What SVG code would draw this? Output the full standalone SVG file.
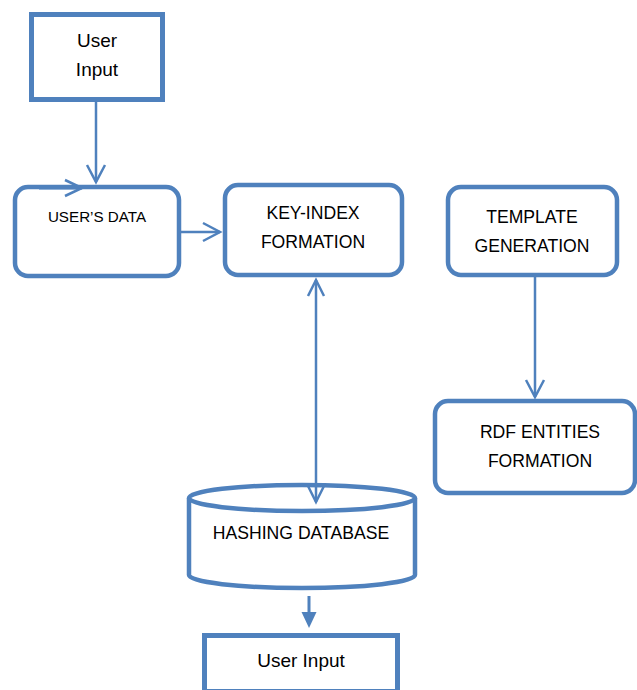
<svg xmlns="http://www.w3.org/2000/svg" width="637" height="690" viewBox="0 0 637 690">
  <defs>
    <style>
      .box { fill: #ffffff; stroke: #4f81bd; stroke-width: 4.5; }
      .line { fill: none; stroke: #4f81bd; stroke-width: 2.5; }
      .head { fill: none; stroke: #4f81bd; stroke-width: 2.5; stroke-linejoin: miter; }
      .lbl { font-family: "Liberation Sans", Arial, sans-serif; font-size: 17.6px; fill: #000000; text-anchor: middle; }
      .sm { font-size: 15.2px; }
      .mixed { font-size: 19px; }
    </style>
  </defs>
  <rect width="637" height="690" fill="#ffffff"/>

  <!-- nodes -->
  <g id="user-input-top">
    <rect class="box" x="31.5" y="14.5" width="131" height="85" style="stroke-width:5"/>
    <text class="lbl mixed" x="97" y="47">User</text>
    <text class="lbl mixed" x="97" y="76">Input</text>
  </g>

  <g id="users-data">
    <rect class="box" x="15" y="187" width="164" height="89" rx="13"/>
    <text class="lbl sm" x="97" y="222">USER’S DATA</text>
  </g>

  <g id="key-index">
    <rect class="box" x="225" y="185" width="177" height="90" rx="13"/>
    <text class="lbl" x="313" y="219">KEY-INDEX</text>
    <text class="lbl" x="313" y="248">FORMATION</text>
  </g>

  <g id="template-generation">
    <rect class="box" x="448" y="187" width="169" height="88" rx="13"/>
    <text class="lbl" x="532" y="223">TEMPLATE</text>
    <text class="lbl" x="532" y="252">GENERATION</text>
  </g>

  <g id="rdf-entities">
    <rect class="box" x="435" y="401" width="200" height="92" rx="13"/>
    <text class="lbl" x="540" y="438">RDF ENTITIES</text>
    <text class="lbl" x="540" y="467">FORMATION</text>
  </g>

  <g id="hashing-database">
    <path class="box" d="M189,498 L189,575 A113,13 0 0 0 415,575 L415,498"/>
    <ellipse class="box" cx="302" cy="498" rx="113" ry="13"/>
    <text class="lbl" x="301" y="539">HASHING DATABASE</text>
  </g>

  <g id="user-input-bottom">
    <rect class="box" x="204.5" y="635.5" width="193" height="56" style="stroke-width:5"/>
    <text class="lbl mixed" x="301" y="667">User Input</text>
  </g>

  <!-- connectors -->
  <g id="connectors">
    <!-- User Input -> USER'S DATA -->
    <line class="line" x1="96" y1="102" x2="96" y2="182"/>
    <polyline class="head" points="87,165 96,182 105,165"/>

    <!-- short arrow along top edge of USER'S DATA -->
    <line class="line" x1="39" y1="188" x2="82" y2="188" style="stroke-width:3"/>
    <polyline class="head" points="65,180 82,188 65,196"/>

    <!-- USER'S DATA -> KEY-INDEX -->
    <line class="line" x1="181" y1="232" x2="220" y2="232"/>
    <polyline class="head" points="203,223 220,232 203,241"/>

    <!-- KEY-INDEX <-> HASHING DATABASE -->
    <line class="line" x1="316" y1="280" x2="316" y2="502"/>
    <polyline class="head" points="308,296 316,280 324,296"/>
    <polyline class="head" points="308,486 316,502 324,486"/>

    <!-- TEMPLATE -> RDF ENTITIES -->
    <line class="line" x1="535" y1="277" x2="535" y2="397"/>
    <polyline class="head" points="526,380 535,397 544,380"/>

    <!-- HASHING DATABASE -> User Input -->
    <line class="line" x1="309" y1="596" x2="309" y2="614" style="stroke-width:3"/>
    <polygon points="301.5,612 316.5,612 309,628" fill="#4f81bd"/>
  </g>
</svg>
